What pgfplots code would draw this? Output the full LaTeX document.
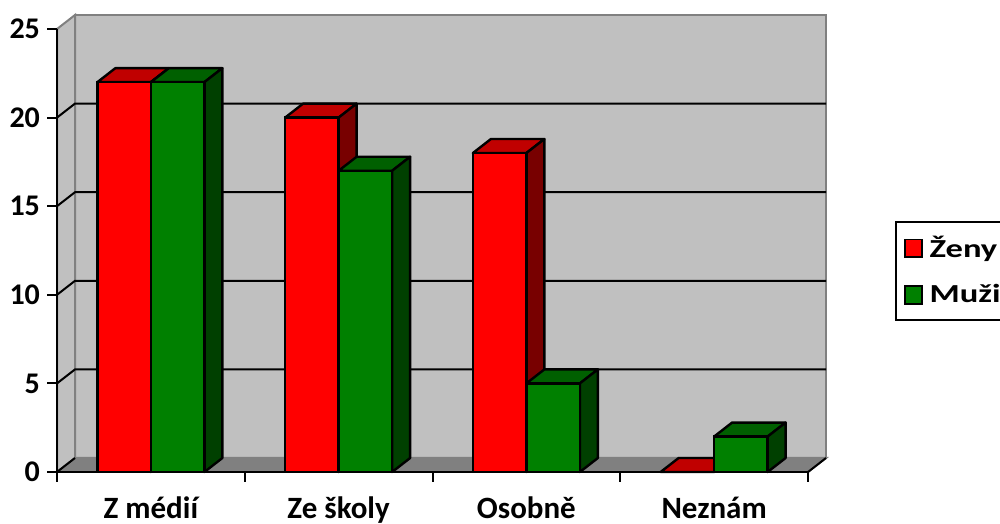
\documentclass[border=0pt]{standalone}
\usepackage{fontspec}
\setmainfont{Carlito}
\newfontfamily\legendfont[FakeStretch=1.33]{Carlito}
\usepackage{pgfplots}
\usepackage{pgfplotstable}
\pgfplotsset{compat=1.18}
\definecolor{redfront}{RGB}{255,0,0}
\definecolor{redtop}{RGB}{192,0,0}
\definecolor{redside}{RGB}{120,0,0}
\definecolor{greenfront}{RGB}{0,128,0}
\definecolor{greentop}{RGB}{0,96,0}
\definecolor{greenside}{RGB}{0,64,0}
\definecolor{wall}{RGB}{192,192,192}
\definecolor{wallfloor}{RGB}{128,128,128}
\definecolor{wallborder}{RGB}{128,128,128}
\pgfdeclareplotmark{emptymark}{}
\pgfplotstableread{
x zeny muzi
0.5 22 22
1.5 20 17
2.5 18 5
3.5 0 2
}\data
\pgfplotsset{
  box3d/.style n args={3}{
    scatter, only marks, mark=emptymark, forget plot,
    visualization depends on={rawy \as \val},
    scatter/@pre marker code/.code={
      \pgfmathsetmacro\barH{\val*8.86}
      \filldraw[fill=#2, draw=black, line width=1.2pt, line join=round]
        (-13.375pt,0pt) -- (13.375pt,0pt) -- (22.375pt,7pt) -- (-4.375pt,7pt) -- cycle;
      \filldraw[fill=#3, draw=black, line width=1.2pt, line join=round]
        (13.375pt,0pt) -- (22.375pt,7pt) -- (22.375pt,7pt-\barH pt) -- (13.375pt,-\barH pt) -- cycle;
      \filldraw[fill=#1, draw=black, line width=1.2pt, line join=round]
        (-13.375pt,-\barH pt) rectangle (13.375pt,0pt);
    },
    scatter/@post marker code/.code={},
  },
}
\begin{document}
\begin{tikzpicture}
\begin{axis}[
  name=ax, set layers, clip=false,
  scale only axis, width=375.5pt, height=221.5pt,
  xmin=0, xmax=4, ymin=0, ymax=25,
  axis x line*=bottom, axis y line*=left,
  axis line style={black, line width=1pt},
  xtick={0,1,2,3,4}, x tick label as interval,
  xticklabels={Z médií, Ze školy, Osobně, Neznám},
  ytick={0,5,...,25},
  minor tick num=0,
  tick align=outside, major tick length=5pt,
  tick style={black, line width=1pt},
  tick label style={font=\fontsize{15}{18}\selectfont\bfseries},
  xticklabel style={font=\fontsize{15.5}{18}\selectfont\bfseries, yshift=-4pt},
  /pgf/number format/assume math mode=true,
  legend style={at={(1,1)}, anchor=north west, xshift=43.5pt, yshift=-96pt,
    draw=black, line width=1pt, fill=white,
    font=\legendfont\bfseries\fontsize{13}{15}\selectfont,
    inner xsep=4pt, inner ysep=5pt, row sep=8pt, cells={anchor=west}},
  legend image code/.code={\draw[#1, line width=0.8pt] (0.5pt,-4.4pt) rectangle (9pt,4.4pt);},
]
\begin{pgfonlayer}{axis background}
  \filldraw[fill=wall, draw=wallborder, line width=1pt]
    ([shift={(9pt,7pt)}]axis cs:0,0) rectangle ([shift={(9pt,7pt)}]axis cs:4,25);
  \filldraw[fill=wall, draw=wallborder, line width=1pt]
    (axis cs:0,0) -- (axis cs:0,25) -- ([shift={(9pt,7pt)}]axis cs:0,25) -- ([shift={(9pt,7pt)}]axis cs:0,0) -- cycle;
  \filldraw[fill=wallfloor, draw=wallborder, line width=1pt]
    (axis cs:0,0) -- (axis cs:4,0) -- ([shift={(9pt,7pt)}]axis cs:4,0) -- ([shift={(9pt,7pt)}]axis cs:0,0) -- cycle;
  \pgfplotsinvokeforeach{5,10,15,20}{
    \draw[black, line width=1pt] (axis cs:0,#1) -- ([shift={(9pt,7pt)}]axis cs:0,#1) -- ([shift={(9pt,7pt)}]axis cs:4,#1);
  }
  \draw[black, line width=1pt] (axis cs:0,0) -- ([shift={(9pt,7pt)}]axis cs:0,0);
  \draw[black, line width=1pt] (axis cs:4,0) -- ([shift={(9pt,7pt)}]axis cs:4,0);
\end{pgfonlayer}
\addplot[ybar, bar width=26.75pt, bar shift=-13.375pt, fill=redfront, draw=black, line width=1.2pt] table[x=x, y=zeny]{\data};
\addlegendentry{\hspace*{1.5pt}\makebox[60pt][l]{Ženy}}
\addplot[ybar, bar width=26.75pt, bar shift=13.375pt, fill=greenfront, draw=black, line width=1.2pt] table[x=x, y=muzi]{\data};
\addlegendentry{\hspace*{1.5pt}\makebox[60pt][l]{Muži}}
\addplot[box3d={redfront}{redtop}{redside}] table[x expr=\thisrow{x}-0.142477, y=zeny]{\data};
\addplot[box3d={greenfront}{greentop}{greenside}] table[x expr=\thisrow{x}+0.142477, y=muzi]{\data};
\end{axis}
\pgfresetboundingbox
\path[use as bounding box] ([shift={(-28.5pt,-26pt)}]ax.south west) rectangle ([shift={(471.5pt,236pt)}]ax.south west);
\end{tikzpicture}
\end{document}
